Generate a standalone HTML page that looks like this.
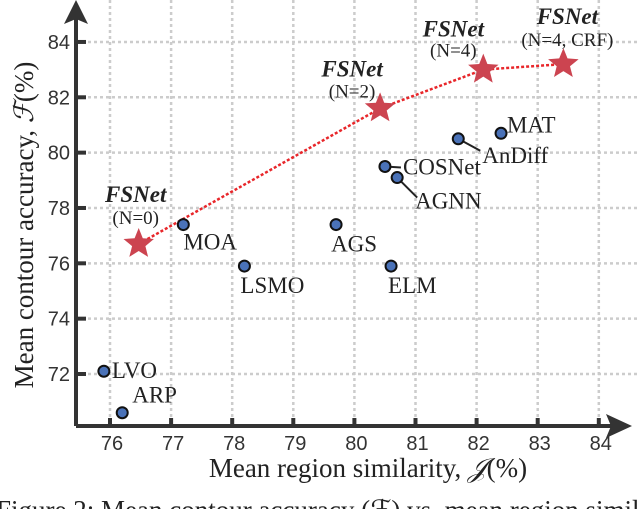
<!DOCTYPE html>
<html><head><meta charset="utf-8"><style>
body{margin:0;background:#fff;width:640px;height:509px;overflow:hidden}
svg{display:block}
.tk{font-family:"Liberation Sans",sans-serif;font-size:20px;fill:#333}
.lb{font-family:"Liberation Serif",serif;font-size:23px;fill:#222}
.fs{font-family:"Liberation Serif",serif;font-size:23px;font-weight:bold;font-style:italic;fill:#222}
.fn{font-family:"Liberation Serif",serif;font-size:19px;fill:#222}
</style></head><body>
<svg id="chart" width="640" height="509">
<g id="grid"></g>
<g id="axes"></g>
<g id="marks"></g>
<text class="lb" x="368" y="477" text-anchor="middle" style="font-size:27px">Mean region similarity, <tspan font-style="italic">𝒥</tspan>(%)</text>
<text class="lb" transform="translate(33,225) rotate(-90)" text-anchor="middle" style="font-size:27px">Mean contour accuracy, <tspan font-style="italic">ℱ</tspan>(%)</text>
<text class="lb" x="-4" y="519" style="font-size:27px">Figure 2: Mean contour accuracy (ℱ) vs. mean region similarity</text>
</svg>
<script>
const xTicks=[76,77,78,79,80,81,82,83,84];
const yTicks=[72,74,76,78,80,82,84];
const methods=["MOA","LSMO","AGS","ELM","COSNet","AGNN","AnDiff","MAT","LVO","ARP"];
const methodJ=[77.2,78.2,79.7,80.6,80.5,80.7,81.7,82.4,75.9,76.2];
const methodF=[77.4,75.9,77.4,75.9,79.5,79.1,80.5,80.7,72.1,70.6];
const fsLabels=["(N=0)","(N=2)","(N=4)","(N=4, CRF)"];
const fsJ=[76.47,80.42,82.11,83.42];
const fsF=[76.7,81.6,83.0,83.2];
const X=v=>110+(v-76)*61.1;
const Y=v=>374-(v-72)*27.67;
const NS="http://www.w3.org/2000/svg";
function mk(p,t,a){const e=document.createElementNS(NS,t);for(const k in a)e.setAttribute(k,a[k]);p.appendChild(e);return e;}
const grid=document.getElementById('grid'),axes=document.getElementById('axes'),marks=document.getElementById('marks');
xTicks.forEach(t=>{
 const g=mk(grid,'line',{x1:X(t),x2:X(t),y1:0,y2:424,stroke:'#ccc','stroke-width':2.5,'stroke-dasharray':'3 3'});
 
 const k=mk(axes,'line',{x1:X(t),x2:X(t),y1:418,y2:426,stroke:'#333','stroke-width':4});
 
 const l=mk(axes,'text',{x:X(t)+2,y:450,'text-anchor':'middle',class:'tk'});l.textContent=t;
 
});
yTicks.forEach(t=>{
 const g=mk(grid,'line',{x1:76,x2:640,y1:Y(t),y2:Y(t),stroke:'#ccc','stroke-width':2.5,'stroke-dasharray':'3 3'});
 
 const k=mk(axes,'line',{x1:76,x2:86,y1:Y(t),y2:Y(t),stroke:'#333','stroke-width':4});
 
 const l=mk(axes,'text',{x:70,y:Y(t)+7,'text-anchor':'end',class:'tk'});l.textContent=t;
 
});
let a=mk(axes,'path',{d:'M76,426 H622 M76,426 V10',stroke:'#333','stroke-width':4,fill:'none'});

a=mk(axes,'path',{d:'M632,426 L606,414 L611,426 L606,438 Z M76,0 L64,24 L76,19 L88,24 Z',fill:'#333'});

const off={MOA:[0,25],LSMO:[-4,27],AGS:[-5,27],ELM:[-3,27],COSNet:[18,8],AGNN:[18,31],AnDiff:[24,24],MAT:[6,-1],LVO:[8,7],ARP:[10,-10]};
const lead={COSNet:[16,1],AGNN:[20,20],AnDiff:[22,12]};
const fsOff=[[-3,-42,-20],[-28,-32,-11],[-30,-33,-13],[4,-40,-18]];
let path='';
fsJ.forEach((v,i)=>{path+=(i?'L':'M')+X(v)+','+Y(fsF[i]);});
a=mk(marks,'path',{d:path,stroke:'#e8262a','stroke-width':2.5,'stroke-dasharray':'3 2',fill:'none'});

methods.forEach((m,i)=>{
 const x=X(methodJ[i]),y=Y(methodF[i]);
 if(lead[m]){const L=mk(marks,'line',{x1:x,y1:y,x2:x+lead[m][0],y2:y+lead[m][1],stroke:'#222','stroke-width':2});
  }
 const c=mk(marks,'circle',{cx:x,cy:y,r:5.5,fill:'#4a72b8',stroke:'#111','stroke-width':2});
 
 const o=off[m];const t=mk(marks,'text',{x:x+o[0],y:y+o[1],class:'lb'});t.textContent=m;
 
});
function star(cx,cy,R,r){let d='';for(let k=0;k<10;k++){const rr=k%2?r:R,ang=-Math.PI/2+k*Math.PI/5;d+=(k?'L':'M')+(cx+rr*Math.cos(ang)).toFixed(1)+','+(cy+rr*Math.sin(ang)).toFixed(1);}return d+'Z';}
fsJ.forEach((v,i)=>{
 const x=X(v),y=Y(fsF[i]);
 const s=mk(marks,'path',{d:star(x,y,16,7),fill:'#cc4450'});
 
 const o=fsOff[i];
 const t1=mk(marks,'text',{x:x+o[0],y:y+o[1],'text-anchor':'middle',class:'fs'});t1.textContent='FSNet';
 
 const t2=mk(marks,'text',{x:x+o[0],y:y+o[2],'text-anchor':'middle',class:'fn'});t2.textContent=fsLabels[i];
 
});
</script>
</body></html>
